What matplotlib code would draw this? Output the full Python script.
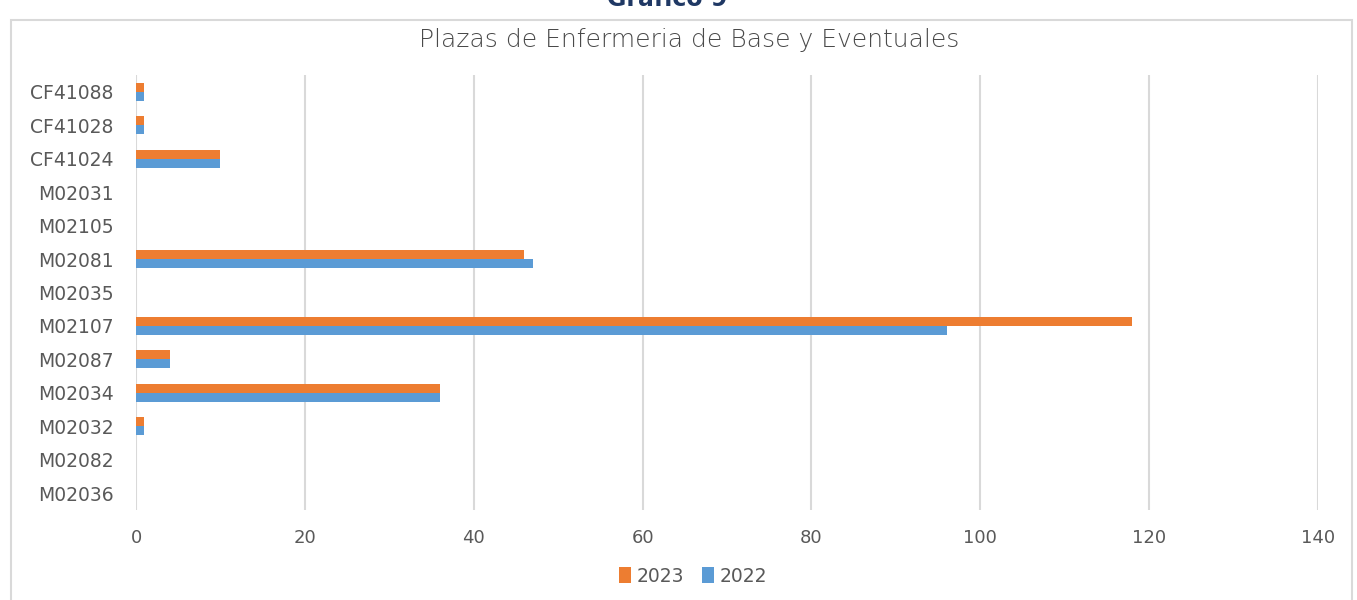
import matplotlib
matplotlib.use("Agg")
import matplotlib.pyplot as plt
from matplotlib.patches import Rectangle
import numpy as np

# Data (bottom to top)
categories = ["M02036", "M02082", "M02032", "M02034", "M02087", "M02107",
              "M02035", "M02081", "M02105", "M02031", "CF41024", "CF41028",
              "CF41088"]
values_2023 = [0, 0, 1, 36, 4, 118, 0, 46, 0, 0, 10, 1, 1]
values_2022 = [0, 0, 1, 36, 4, 96, 0, 47, 0, 0, 10, 1, 1]
xticks = [0, 20, 40, 60, 80, 100, 120, 140]

W, H = 1357, 600
grey = "#595959"
fig = plt.figure(figsize=(W / 100, H / 100), dpi=100)

# outer chart frame (cut off at bottom)
fig.patches.append(Rectangle((11 / W, -0.05), (1352 - 11) / W, 1.05 - 20 / H,
                             transform=fig.transFigure, fill=False,
                             edgecolor="#d9d9d9", lw=1.5))

# heading above the frame, partly cut off like in the source
fig.text(667 / W, 1 - 6 / H, "Gráfico 9", ha="center", va="baseline",
         fontsize=17, fontweight="bold", color="#1F3864")

ax = fig.add_axes([136 / W, 1 - 510 / H, (1318 - 136) / W, (510 - 75) / H])

y = np.arange(len(categories))
h = 0.27
ax.barh(y + h / 2, values_2023, height=h, color="#ED7D31", label="2023", zorder=3)
ax.barh(y - h / 2, values_2022, height=h, color="#5B9BD5", label="2022", zorder=3)

ax.set_xlim(0, 140)
ax.set_ylim(-0.5, len(categories) - 0.5)
ax.set_xticks(xticks)
ax.set_yticks(y)
ax.set_yticklabels(categories)
ax.grid(axis="x", color="#d9d9d9", lw=1.5, zorder=0)
for s in ax.spines.values():
    s.set_visible(False)
ax.tick_params(length=0, labelsize=13, colors=grey)
ax.tick_params(axis="y", labelsize=13.5, pad=16)
ax.tick_params(axis="x", pad=14)

fig.text(689 / W, 1 - 40 / H, "Plazas de Enfermeria de Base y Eventuales",
         ha="center", va="center", fontsize=18, color="#4a4a4a",
         fontweight="light")

leg = fig.legend(loc="center", bbox_to_anchor=(693 / W, 1 - 576 / H), ncol=2,
                 frameon=False, fontsize=13.5, handlelength=0.6, handleheight=0.9,
                 handletextpad=0.3, columnspacing=1.0)
for t in leg.get_texts():
    t.set_color(grey)

fig.savefig("out.png", dpi=100)
